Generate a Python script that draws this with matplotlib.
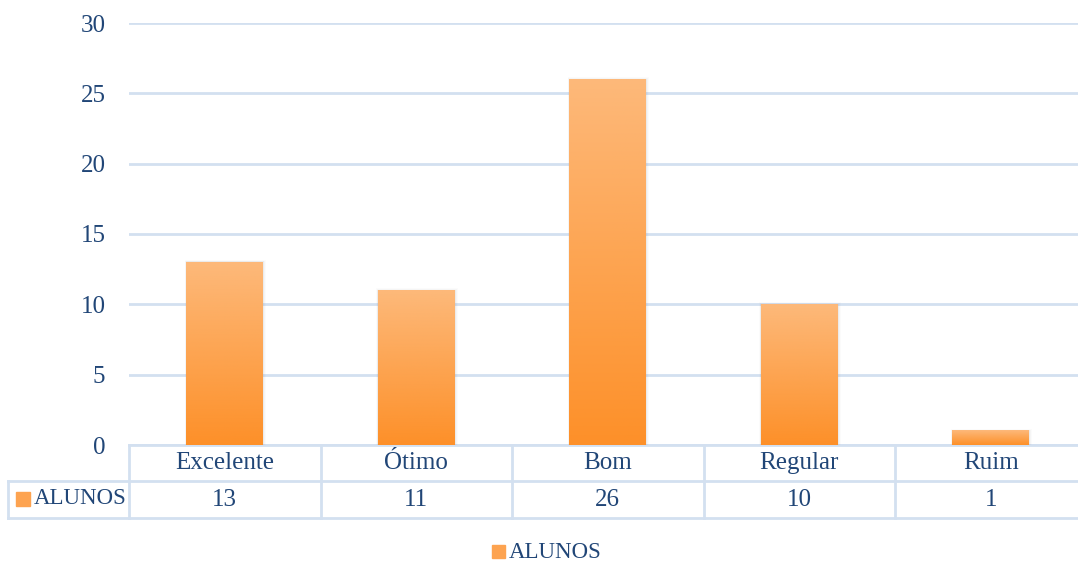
# Bar chart with data table (Excel style)
import numpy as np
import matplotlib.pyplot as plt
import matplotlib.transforms as mtransforms
from matplotlib.patches import Rectangle

# Data
categories = ['Excelente', 'Ótimo', 'Bom', 'Regular', 'Ruim']
alunos = [13, 11, 26, 10, 1]
series_name = 'ALUNOS'
yticks = [0, 5, 10, 15, 20, 25, 30]

text_color = '#214677'
grid_color = '#D3E0F0'
top_orange = '#FDB97A'
bottom_orange = '#FD9029'

plt.rcParams['font.family'] = ['Liberation Serif', 'DejaVu Serif']

W, H = 1078, 566
fig = plt.figure(figsize=(W / 100, H / 100), dpi=100)
ax = fig.add_axes([129 / W, (H - 445) / H, 957.5 / W, 422 / H])

x = np.arange(len(categories))
bar_w = 0.40
bars = ax.bar(x, alunos, width=bar_w, color='none', zorder=3)

# gradient fill + soft shadow for each bar
grad = np.linspace(0, 1, 256).reshape(-1, 1)
cmap = plt.matplotlib.colors.LinearSegmentedColormap.from_list(
    'og', [bottom_orange, top_orange])
for b in bars:
    x0, w, h = b.get_x(), b.get_width(), b.get_height()
    for k, a in enumerate([0.08, 0.05, 0.025]):
        off = 0.006 * (k + 1)
        ax.add_patch(Rectangle((x0 - off * 0.5, 0), w + off * 1.5, h + off * 8,
                               color='#7F7F7F', alpha=a, lw=0, zorder=2))
    ax.imshow(grad, extent=(x0, x0 + w, 0, h), origin='lower', cmap=cmap,
              aspect='auto', zorder=3)

ax.set_xlim(-0.5, len(categories) - 0.5)
ax.set_ylim(0, 30)
ax.set_yticks(yticks)
ax.set_xticks([])
ax.tick_params(axis='y', length=0, pad=17, labelsize=18, labelcolor=text_color)
ax.yaxis.grid(True, color=grid_color, lw=2)
ax.set_axisbelow(True)
for s in ax.spines.values():
    s.set_visible(False)

# data table under the plot
trans = mtransforms.blended_transform_factory(ax.transData, ax.transAxes)
row1 = -36 / 422
row2 = -73 / 422
left_cell = (8 - 129) / 191.5 - 0.5
line_kw = dict(color=grid_color, lw=2, transform=trans, clip_on=False, zorder=1)

ax.plot([-0.5, 4.5], [0, 0], **line_kw)
ax.plot([left_cell, 4.5], [row1, row1], **line_kw)
ax.plot([left_cell, 4.5], [row2, row2], **line_kw)
for xv in np.arange(-0.5, len(categories), 1.0):
    ax.plot([xv, xv], [0, row2], **line_kw)
ax.plot([left_cell, left_cell], [row1, row2], **line_kw)

for i, (c, v) in enumerate(zip(categories, alunos)):
    ax.text(i, row1 / 2, c, transform=trans, ha='center', va='center',
            fontsize=18, color=text_color)
    ax.text(i, (row1 + row2) / 2, str(v), transform=trans, ha='center',
            va='center', fontsize=18, color=text_color)

# series key inside the table
ax.add_patch(Rectangle((16 / W, (H - 506) / H), 14 / W, 14 / H,
                       transform=fig.transFigure, color='#FDA350', clip_on=False))
fig.text(34 / W, (H - 499) / H, series_name, ha='left', va='center',
         fontsize=16.5, color=text_color)

# legend at bottom
fig.patches.append(Rectangle((492 / W, (H - 558) / H), 13 / W, 13 / H,
                             transform=fig.transFigure, color='#FDA350'))
fig.text(509 / W, (H - 552) / H, series_name, ha='left', va='center',
         fontsize=16.5, color=text_color)

fig.savefig('out.png', dpi=100)
